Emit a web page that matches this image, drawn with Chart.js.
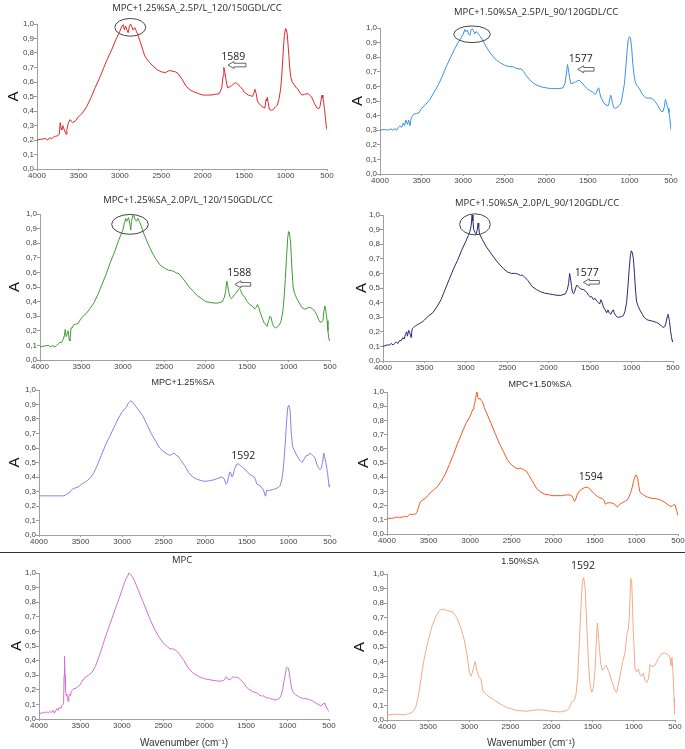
<!DOCTYPE html>
<html><head><meta charset="utf-8">
<script src="https://cdn.jsdelivr.net/npm/chart.js@4"></script>
<style>
html,body{margin:0;padding:0;background:#fff;}
#wrap{position:relative;width:685px;height:749px;overflow:hidden;background:#fff;}
#sep{position:absolute;left:0;top:552px;width:685px;height:1px;background:#333;}
</style></head>
<body><div id="wrap"><div id="sep"></div></div>
<script>
// ---------- axis ticks ----------
const xTicks = [4000, 3500, 3000, 2500, 2000, 1500, 1000, 500];
const xTickLabels = ['4000', '3500', '3000', '2500', '2000', '1500', '1000', '500'];
const yTicks = [0, 0.1, 0.2, 0.3, 0.4, 0.5, 0.6, 0.7, 0.8, 0.9, 1.0];
const yTickLabels = ['0,0','0,1','0,2','0,3','0,4','0,5','0,6','0,7','0,8','0,9','1,0'];

// ---------- titles ----------
const titles = [
  'MPC+1.25%SA_2.5P/L_120/150GDL/CC',
  'MPC+1.50%SA_2.5P/L_90/120GDL/CC',
  'MPC+1.25%SA_2.0P/L_120/150GDL/CC',
  'MPC+1.50%SA_2.0P/L_90/120GDL/CC',
  'MPC+1.25%SA',
  'MPC+1.50%SA',
  'MPC',
  '1.50%SA'
];

// ---------- spectra (wavenumber cm-1, absorbance) ----------
// 1: MPC+1.25%SA_2.5P/L_120/150GDL/CC
const s1Wn = [4000,3950,3900,3870,3850,3820,3800,3780,3750,3730,3720,3710,3700,3690,3670,3650,3640,3620,3600,3570,3540,3500,3460,3400,3350,3300,3250,3200,3150,3100,3050,3000,2980,2960,2945,2930,2915,2900,2885,2870,2855,2840,2820,2800,2780,2750,2700,2650,2600,2550,2500,2450,2400,2370,2330,2300,2250,2200,2150,2100,2050,2000,1950,1900,1850,1800,1770,1755,1745,1730,1715,1700,1680,1650,1620,1600,1580,1550,1520,1500,1450,1420,1400,1385,1370,1355,1340,1320,1300,1270,1250,1235,1228,1220,1210,1195,1170,1150,1120,1100,1080,1060,1045,1030,1015,1000,990,980,965,950,935,920,900,870,850,820,800,770,730,700,680,650,620,600,585,570,560,550,540,530,520,510,500];
const s1Abs = [0.20,0.205,0.21,0.20,0.215,0.21,0.22,0.225,0.23,0.24,0.32,0.28,0.27,0.30,0.27,0.24,0.27,0.32,0.34,0.32,0.33,0.36,0.38,0.43,0.49,0.56,0.62,0.69,0.76,0.82,0.89,0.95,0.98,0.995,0.96,0.985,0.96,0.94,0.985,1.0,0.98,0.96,0.975,0.95,0.92,0.87,0.78,0.74,0.71,0.685,0.67,0.665,0.68,0.675,0.67,0.66,0.62,0.57,0.545,0.53,0.52,0.51,0.51,0.51,0.515,0.52,0.56,0.64,0.70,0.66,0.60,0.56,0.565,0.575,0.59,0.595,0.585,0.57,0.55,0.53,0.51,0.505,0.50,0.52,0.55,0.52,0.47,0.45,0.44,0.425,0.42,0.48,0.47,0.495,0.46,0.41,0.405,0.41,0.43,0.44,0.48,0.55,0.65,0.80,0.92,0.97,0.96,0.93,0.82,0.70,0.63,0.60,0.585,0.56,0.55,0.52,0.51,0.515,0.52,0.505,0.49,0.45,0.42,0.415,0.43,0.48,0.51,0.49,0.46,0.41,0.36,0.30,0.27];

// 2: MPC+1.50%SA_2.5P/L_90/120GDL/CC
const s2Wn = [4000,3950,3900,3870,3850,3820,3800,3780,3760,3740,3720,3705,3690,3670,3655,3640,3625,3610,3590,3560,3530,3500,3460,3400,3350,3300,3250,3200,3150,3100,3050,3000,2980,2965,2950,2935,2920,2905,2890,2875,2860,2845,2830,2810,2790,2750,2700,2650,2600,2550,2500,2450,2400,2370,2330,2300,2270,2250,2200,2150,2100,2050,2000,1950,1900,1850,1800,1775,1760,1745,1735,1720,1705,1690,1670,1650,1620,1600,1580,1550,1520,1500,1470,1440,1410,1395,1380,1368,1355,1340,1320,1300,1270,1250,1235,1225,1215,1205,1190,1170,1150,1120,1100,1080,1060,1045,1030,1015,1000,990,975,960,945,930,915,900,870,850,820,800,770,740,710,690,660,630,610,595,580,568,555,545,535,525,515,505,500];
const s2Abs = [0.30,0.305,0.30,0.31,0.30,0.31,0.30,0.32,0.33,0.32,0.35,0.33,0.37,0.34,0.37,0.33,0.38,0.40,0.41,0.415,0.42,0.45,0.47,0.51,0.56,0.61,0.67,0.74,0.80,0.86,0.91,0.955,0.99,0.975,0.985,0.96,0.95,0.985,0.995,0.98,0.96,0.975,0.97,0.955,0.94,0.90,0.85,0.81,0.78,0.76,0.745,0.735,0.735,0.725,0.72,0.72,0.70,0.68,0.645,0.62,0.605,0.595,0.59,0.585,0.585,0.585,0.59,0.62,0.68,0.75,0.72,0.66,0.62,0.62,0.625,0.63,0.64,0.64,0.63,0.61,0.59,0.58,0.57,0.56,0.545,0.56,0.585,0.59,0.55,0.52,0.50,0.48,0.47,0.47,0.52,0.54,0.52,0.49,0.455,0.45,0.455,0.47,0.49,0.55,0.62,0.72,0.83,0.92,0.94,0.935,0.88,0.76,0.68,0.63,0.61,0.60,0.575,0.55,0.53,0.52,0.52,0.52,0.51,0.495,0.47,0.44,0.425,0.43,0.46,0.51,0.49,0.46,0.45,0.42,0.39,0.33,0.30];

// 3: MPC+1.25%SA_2.0P/L_120/150GDL/CC
const s3Wn = [4000,3950,3900,3870,3850,3820,3800,3780,3760,3740,3720,3705,3695,3685,3670,3660,3648,3638,3625,3610,3595,3570,3540,3510,3480,3440,3400,3350,3300,3250,3200,3150,3100,3050,3000,2980,2965,2955,2945,2932,2915,2905,2895,2880,2865,2850,2835,2820,2800,2780,2750,2700,2650,2600,2550,2500,2450,2400,2380,2350,2320,2300,2250,2200,2150,2100,2050,2000,1950,1900,1850,1800,1775,1760,1745,1735,1720,1705,1690,1675,1650,1630,1610,1595,1580,1560,1530,1500,1470,1440,1410,1390,1375,1360,1345,1320,1300,1280,1260,1240,1225,1210,1195,1180,1160,1140,1110,1090,1070,1055,1040,1025,1010,1000,990,975,960,945,930,915,900,870,840,810,790,760,740,710,690,660,640,620,600,585,575,563,553,545,535,525,515,505];
const s3Abs = [0.09,0.095,0.10,0.09,0.10,0.09,0.10,0.11,0.12,0.12,0.14,0.17,0.21,0.16,0.18,0.20,0.14,0.13,0.22,0.22,0.24,0.245,0.25,0.28,0.30,0.32,0.35,0.39,0.45,0.52,0.59,0.67,0.74,0.82,0.89,0.94,0.97,0.95,0.96,0.975,0.93,0.89,0.95,0.99,0.985,0.96,0.95,0.97,0.95,0.92,0.87,0.80,0.74,0.69,0.65,0.63,0.615,0.61,0.605,0.595,0.59,0.575,0.54,0.50,0.47,0.44,0.42,0.40,0.395,0.39,0.39,0.40,0.43,0.47,0.54,0.51,0.46,0.43,0.42,0.43,0.45,0.46,0.48,0.49,0.48,0.45,0.43,0.40,0.38,0.37,0.35,0.36,0.38,0.36,0.33,0.29,0.26,0.245,0.23,0.27,0.30,0.29,0.25,0.23,0.22,0.225,0.24,0.27,0.33,0.42,0.55,0.70,0.84,0.88,0.875,0.80,0.63,0.50,0.46,0.44,0.42,0.39,0.36,0.35,0.35,0.36,0.36,0.35,0.34,0.31,0.28,0.26,0.26,0.27,0.33,0.37,0.35,0.31,0.27,0.20,0.15,0.13];

// 4: MPC+1.50%SA_2.0P/L_90/120GDL/CC
const s4Wn = [4000,3950,3920,3900,3880,3860,3840,3820,3800,3780,3760,3745,3730,3715,3705,3690,3675,3660,3648,3630,3610,3580,3550,3520,3500,3450,3400,3350,3300,3250,3200,3150,3100,3050,3000,2970,2950,2935,2925,2915,2905,2890,2875,2862,2852,2845,2835,2800,2750,2700,2650,2600,2550,2500,2450,2400,2370,2340,2320,2300,2250,2200,2150,2100,2050,2000,1950,1900,1850,1800,1775,1760,1748,1738,1725,1712,1700,1690,1675,1660,1645,1625,1600,1580,1560,1540,1520,1500,1480,1460,1440,1420,1400,1385,1370,1355,1340,1320,1300,1285,1270,1250,1230,1220,1210,1190,1170,1150,1120,1100,1080,1060,1045,1030,1015,1003,990,978,965,952,940,925,900,870,850,820,800,760,730,700,670,640,620,600,585,572,562,552,542,530,520,510,505];
const s4Abs = [0.10,0.11,0.11,0.12,0.11,0.12,0.13,0.12,0.14,0.14,0.16,0.15,0.18,0.20,0.17,0.21,0.19,0.16,0.22,0.23,0.24,0.25,0.26,0.27,0.28,0.31,0.33,0.37,0.42,0.49,0.56,0.63,0.69,0.76,0.82,0.86,0.89,0.93,1.0,0.96,0.90,0.88,0.87,0.90,0.945,0.92,0.87,0.83,0.78,0.74,0.70,0.665,0.635,0.61,0.60,0.60,0.595,0.585,0.59,0.58,0.55,0.51,0.49,0.475,0.465,0.46,0.455,0.45,0.45,0.46,0.49,0.53,0.60,0.57,0.51,0.47,0.46,0.47,0.50,0.52,0.51,0.50,0.49,0.49,0.48,0.47,0.45,0.44,0.44,0.42,0.43,0.41,0.40,0.39,0.42,0.40,0.37,0.35,0.33,0.35,0.33,0.32,0.345,0.35,0.33,0.31,0.30,0.30,0.305,0.31,0.34,0.40,0.50,0.62,0.72,0.755,0.74,0.70,0.60,0.48,0.41,0.38,0.35,0.32,0.30,0.285,0.28,0.275,0.27,0.265,0.255,0.24,0.23,0.235,0.26,0.30,0.32,0.30,0.27,0.21,0.17,0.14,0.13];

// 5: MPC+1.25%SA
const s5Wn = [4000,3900,3800,3750,3700,3670,3640,3610,3590,3560,3530,3500,3460,3420,3380,3340,3300,3250,3200,3150,3100,3050,3000,2970,2950,2930,2910,2895,2880,2860,2840,2800,2750,2700,2650,2600,2550,2500,2450,2420,2395,2375,2350,2320,2300,2250,2200,2150,2100,2050,2000,1950,1900,1850,1800,1775,1760,1750,1735,1720,1705,1695,1680,1670,1655,1640,1620,1600,1580,1560,1530,1500,1470,1440,1410,1395,1380,1360,1340,1320,1300,1290,1280,1270,1260,1240,1210,1180,1150,1120,1100,1080,1065,1050,1035,1020,1008,995,980,965,950,930,910,880,855,835,810,790,760,740,720,700,680,660,640,620,605,590,575,565,550,530,510,500];
const s5Abs = [0.27,0.27,0.27,0.27,0.27,0.28,0.29,0.31,0.32,0.325,0.33,0.345,0.36,0.375,0.395,0.43,0.48,0.55,0.62,0.68,0.74,0.80,0.85,0.87,0.88,0.905,0.92,0.925,0.92,0.905,0.89,0.86,0.82,0.76,0.70,0.65,0.60,0.575,0.555,0.55,0.56,0.565,0.55,0.54,0.52,0.48,0.43,0.40,0.385,0.375,0.37,0.375,0.38,0.39,0.40,0.39,0.365,0.35,0.36,0.40,0.435,0.43,0.40,0.405,0.44,0.465,0.49,0.49,0.48,0.47,0.455,0.44,0.42,0.41,0.40,0.38,0.35,0.345,0.34,0.325,0.31,0.29,0.27,0.29,0.31,0.305,0.31,0.315,0.32,0.33,0.34,0.38,0.44,0.54,0.66,0.80,0.88,0.895,0.86,0.70,0.61,0.585,0.56,0.53,0.51,0.50,0.525,0.545,0.55,0.565,0.555,0.545,0.53,0.49,0.465,0.45,0.46,0.50,0.565,0.54,0.50,0.43,0.33,0.35];

// 6: MPC+1.50%SA
const s6Wn = [4000,3950,3900,3870,3850,3820,3800,3780,3760,3740,3720,3700,3680,3660,3640,3625,3610,3595,3570,3540,3510,3480,3440,3400,3350,3300,3250,3200,3150,3100,3050,3000,2980,2965,2955,2945,2935,2925,2918,2908,2895,2880,2865,2850,2830,2800,2750,2700,2650,2600,2550,2500,2450,2420,2400,2380,2350,2320,2300,2250,2200,2150,2100,2050,2000,1950,1900,1850,1800,1780,1760,1745,1730,1710,1690,1660,1630,1600,1575,1550,1520,1500,1470,1440,1410,1390,1375,1360,1340,1310,1280,1260,1240,1228,1215,1200,1170,1140,1110,1090,1070,1050,1035,1020,1008,995,985,972,960,945,925,900,870,840,800,770,740,710,680,650,620,590,570,555,540,528,515,505,500];
const s6Abs = [0.11,0.11,0.115,0.12,0.115,0.12,0.12,0.125,0.12,0.13,0.14,0.135,0.14,0.14,0.15,0.18,0.21,0.23,0.24,0.25,0.27,0.29,0.31,0.33,0.37,0.42,0.49,0.56,0.64,0.71,0.78,0.83,0.86,0.88,0.90,0.92,0.95,0.99,1.0,0.96,0.95,0.955,0.94,0.93,0.89,0.85,0.78,0.71,0.64,0.58,0.52,0.485,0.465,0.46,0.465,0.46,0.45,0.44,0.42,0.37,0.32,0.295,0.28,0.275,0.27,0.27,0.27,0.275,0.275,0.27,0.25,0.23,0.245,0.28,0.30,0.315,0.325,0.33,0.325,0.31,0.29,0.28,0.265,0.255,0.25,0.235,0.21,0.215,0.22,0.22,0.215,0.21,0.195,0.19,0.20,0.21,0.22,0.23,0.24,0.26,0.29,0.33,0.37,0.40,0.415,0.41,0.39,0.34,0.30,0.285,0.28,0.27,0.26,0.255,0.25,0.25,0.245,0.24,0.23,0.22,0.205,0.195,0.195,0.205,0.21,0.19,0.16,0.14,0.13];

// 7: MPC
const s7Wn = [4000,3970,3950,3930,3910,3890,3870,3850,3830,3815,3800,3785,3770,3755,3740,3725,3712,3703,3697,3692,3686,3680,3672,3665,3655,3648,3640,3630,3620,3610,3595,3580,3565,3550,3530,3510,3490,3460,3430,3400,3360,3320,3300,3250,3200,3150,3100,3050,3000,2970,2950,2930,2915,2895,2875,2850,2800,2750,2700,2650,2600,2550,2500,2450,2420,2400,2380,2350,2320,2300,2250,2200,2150,2100,2050,2000,1950,1900,1850,1800,1770,1750,1738,1725,1710,1690,1670,1650,1630,1610,1590,1570,1550,1520,1500,1470,1440,1410,1380,1360,1340,1320,1300,1285,1270,1250,1230,1210,1180,1150,1120,1100,1080,1060,1045,1030,1015,1003,992,980,968,955,940,920,900,870,840,810,780,750,720,690,660,630,600,585,570,560,550,540,525,510,500];
const s7Abs = [0.04,0.04,0.045,0.04,0.05,0.04,0.05,0.045,0.06,0.04,0.055,0.07,0.06,0.08,0.07,0.09,0.10,0.11,0.30,0.43,0.30,0.20,0.16,0.17,0.14,0.12,0.16,0.17,0.16,0.19,0.20,0.21,0.205,0.215,0.22,0.23,0.25,0.275,0.29,0.30,0.32,0.36,0.39,0.47,0.56,0.64,0.72,0.80,0.88,0.93,0.96,0.98,1.0,0.99,0.975,0.95,0.88,0.81,0.74,0.67,0.61,0.56,0.52,0.495,0.48,0.48,0.48,0.47,0.455,0.44,0.40,0.35,0.32,0.30,0.285,0.275,0.27,0.265,0.26,0.26,0.265,0.28,0.29,0.275,0.27,0.27,0.285,0.29,0.285,0.285,0.28,0.27,0.26,0.24,0.22,0.205,0.195,0.185,0.18,0.175,0.165,0.16,0.155,0.16,0.15,0.145,0.145,0.14,0.135,0.13,0.135,0.14,0.16,0.20,0.25,0.30,0.345,0.355,0.35,0.32,0.27,0.22,0.19,0.175,0.165,0.155,0.145,0.14,0.14,0.135,0.13,0.12,0.11,0.10,0.09,0.095,0.105,0.11,0.105,0.09,0.075,0.06,0.05];

// 8: 1.50%SA
const s8Wn = [4000,3879,3777,3737,3697,3668,3644,3624,3595,3555,3506,3454,3405,3361,3332,3272,3203,3150,3102,3061,3029,2997,2976,2956,2928,2908,2879,2859,2835,2786,2705,2624,2543,2422,2301,2179,2098,2009,1896,1815,1783,1767,1746,1722,1702,1682,1661,1641,1625,1609,1592,1572,1552,1532,1512,1491,1471,1455,1443,1427,1402,1382,1358,1338,1309,1269,1229,1208,1176,1135,1107,1087,1067,1055,1038,1026,1006,986,966,945,925,905,885,864,844,824,803,783,743,703,662,622,581,561,549,537,525,512,504];
const s8Abs = [0.035,0.04,0.035,0.045,0.05,0.07,0.10,0.15,0.25,0.40,0.53,0.64,0.71,0.75,0.76,0.75,0.74,0.70,0.63,0.55,0.45,0.32,0.30,0.34,0.40,0.34,0.29,0.285,0.20,0.17,0.14,0.11,0.085,0.065,0.06,0.07,0.068,0.06,0.055,0.065,0.08,0.11,0.13,0.135,0.18,0.30,0.55,0.80,0.95,0.975,0.90,0.65,0.40,0.24,0.19,0.22,0.35,0.55,0.665,0.55,0.38,0.34,0.36,0.375,0.34,0.27,0.20,0.19,0.28,0.40,0.46,0.58,0.63,0.70,0.97,0.95,0.60,0.35,0.33,0.35,0.31,0.30,0.32,0.27,0.255,0.28,0.38,0.365,0.375,0.42,0.455,0.46,0.445,0.43,0.37,0.43,0.33,0.15,0.04];

// ---------- panel definitions ----------
const panels = [
  {wn:s1Wn, ab:s1Abs, color:'#e4262c', rect:[37,24,327,169],  tdx:160, tdy:16, tf:'9.5px "Open Sans"', yPad:5,
   notes:[{t:'ellipse',x:2874,y:0.977,rx:187,ry:0.061},{t:'text',x:1631,y:0.774,s:'1589'},{t:'arrow',x1:1695,x2:1478,y:0.717}]},
  {wn:s2Wn, ab:s2Abs, color:'#3c92e0', rect:[380,28,671,174], tdx:156, tdy:16, tf:'9.5px "Open Sans"', yPad:6,
   notes:[{t:'ellipse',x:2893,y:0.957,rx:220,ry:0.057},{t:'text',x:1586,y:0.786,s:'1577'},{t:'arrow',x1:1622,x2:1426,y:0.717}]},
  {wn:s3Wn, ab:s3Abs, color:'#3f9b35', rect:[40,214,330,360], tdx:148, tdy:14, tf:'9.5px "Open Sans"', yPad:3,
   notes:[{t:'ellipse',x:2914,y:0.929,rx:221,ry:0.068},{t:'text',x:1595,y:0.594,s:'1588'},{t:'arrow',x1:1647,x2:1457,y:0.518}]},
  {wn:s4Wn, ab:s4Abs, color:'#28296e', rect:[383,215,673,361], tdx:154, tdy:12, tf:'9.5px "Open Sans"', yPad:7,
   notes:[{t:'ellipse',x:2890,y:0.936,rx:185,ry:0.072},{t:'text',x:1542,y:0.605,s:'1577'},{t:'arrow',x1:1582,x2:1389,y:0.539}]},
  {wn:s5Wn, ab:s5Abs, color:'#8383ee', rect:[39,390,330,535], tdx:144, tdy:7, tf:'9px "Liberation Sans"', yPad:4,
   notes:[{t:'text',x:1543,y:0.547,s:'1592'}]},
  {wn:s6Wn, ab:s6Abs, color:'#f05a22', rect:[387,392,678,534], tdx:153, tdy:7, tf:'9px "Liberation Sans"', yPad:5,
   notes:[{t:'text',x:1550,y:0.399,s:'1594'}]},
  {wn:s7Wn, ab:s7Abs, color:'#d46cd6', rect:[39,573,329,719], tdx:143, tdy:13, tf:'9.5px "Open Sans"', yPad:6, xTitle:true,
   notes:[]},
  {wn:s8Wn, ab:s8Abs, color:'#f6a987', rect:[387,574,675,720], tdx:133, tdy:12, tf:'9px "Liberation Sans"', yPad:1, xTitle:true,
   notes:[{t:'text',x:1618,y:1.055,s:'1592'}]}
];

const notesPlugin = {
  id: 'notes',
  afterDraw(chart, args, opts) {
    const {ctx, chartArea, scales} = chart;
    const xs = scales.x, ys = scales.y;
    ctx.save();
    ctx.fillStyle = '#2a2a2a';
    ctx.textAlign = 'center';
    ctx.textBaseline = 'middle';
    ctx.font = opts.titleFont;
    ctx.fillText(opts.title, chartArea.left + opts.tdx, chartArea.top - opts.tdy);
    for (const n of opts.items) {
      if (n.t === 'ellipse') {
        const cx = xs.getPixelForValue(n.x), cy = ys.getPixelForValue(n.y);
        const rx = Math.abs(xs.getPixelForValue(n.x + n.rx) - cx);
        const ry = Math.abs(ys.getPixelForValue(n.y + n.ry) - cy);
        ctx.beginPath();
        ctx.ellipse(cx, cy, rx, ry, 0, 0, Math.PI * 2);
        ctx.strokeStyle = '#444'; ctx.lineWidth = 1; ctx.stroke();
      } else if (n.t === 'text') {
        ctx.font = '10.5px "Open Sans"';
        ctx.fillStyle = '#222';
        ctx.fillText(n.s, xs.getPixelForValue(n.x), ys.getPixelForValue(n.y));
      } else if (n.t === 'arrow') {
        const x1 = xs.getPixelForValue(n.x1), x2 = xs.getPixelForValue(n.x2), y = ys.getPixelForValue(n.y);
        const hl = 6, hh = 3.5, bh = 1.8;
        ctx.beginPath();
        ctx.moveTo(x1, y);
        ctx.lineTo(x1 + hl, y - hh);
        ctx.lineTo(x1 + hl, y - bh);
        ctx.lineTo(x2, y - bh);
        ctx.lineTo(x2, y + bh);
        ctx.lineTo(x1 + hl, y + bh);
        ctx.lineTo(x1 + hl, y + hh);
        ctx.closePath();
        ctx.strokeStyle = '#555'; ctx.lineWidth = 0.9; ctx.stroke();
      }
    }
    ctx.restore();
  }
};

const wrap = document.getElementById('wrap');
const yW = 37, rightPad = 10;
panels.forEach((p, i) => {
  const [L, T, R, B] = p.rect;
  const topPad = p.tdy + 8;
  const xH = p.xTitle ? (749 - B) : 14;
  const left = L - yW, top = T - topPad;
  const w = R - L + yW + rightPad, h = B - T + topPad + xH;
  const cv = document.createElement('canvas');
  cv.width = w; cv.height = h;
  cv.style.cssText = `position:absolute;left:${left}px;top:${top}px;width:${w}px;height:${h}px;`;
  wrap.appendChild(cv);
  new Chart(cv, {
    type: 'line',
    data: { datasets: [{
      data: p.wn.map((x, k) => ({x: x, y: p.ab[k]})),
      borderColor: p.color, borderWidth: 1, pointRadius: 0, tension: 0, fill: false
    }]},
    options: {
      responsive: false, animation: false, devicePixelRatio: 1,
      layout: { padding: { left: 0, top: topPad, right: rightPad, bottom: 0 } },
      plugins: {
        legend: { display: false }, tooltip: { enabled: false },
        notes: { title: titles[i], titleFont: p.tf, tdx: p.tdx, tdy: p.tdy, items: p.notes }
      },
      scales: {
        x: {
          type: 'linear', reverse: true, min: 500, max: 4000,
          afterBuildTicks: s => { s.ticks = xTicks.map(v => ({value: v})); },
          afterFit: s => { s.height = xH; },
          grid: { drawOnChartArea: false, drawTicks: true, tickLength: 2, color: '#999' },
          border: { display: true, color: '#a0a0a0', width: 1 },
          ticks: { font: { size: 8, family: '"Liberation Sans", Arial' }, color: '#444', padding: 0, maxRotation: 0, autoSkip: false,
                   callback: (v, k) => xTickLabels[k] },
          title: { display: !!p.xTitle, text: 'Wavenumber (cm\u207B\u00B9)', color: '#333',
                   font: { size: 10, family: '"Liberation Sans", Arial' }, padding: { top: 0, bottom: 0 } }
        },
        y: {
          type: 'linear', min: 0, max: 1,
          afterBuildTicks: s => { s.ticks = yTicks.map(v => ({value: v})); },
          afterFit: s => { s.width = yW; },
          grid: { drawOnChartArea: false, drawTicks: true, tickLength: 3, color: '#999' },
          border: { display: true, color: '#a0a0a0', width: 1 },
          ticks: { font: { size: 8, family: '"Liberation Sans", Arial' }, color: '#444', padding: 0,
                   callback: (v, k) => yTickLabels[k] },
          title: { display: true, text: 'A', color: '#111', font: { size: 15, family: '"Liberation Sans", Arial' },
                   padding: { top: p.yPad, bottom: 0 } }
        }
      }
    },
    plugins: [notesPlugin]
  });
});
</script>
</body></html>
